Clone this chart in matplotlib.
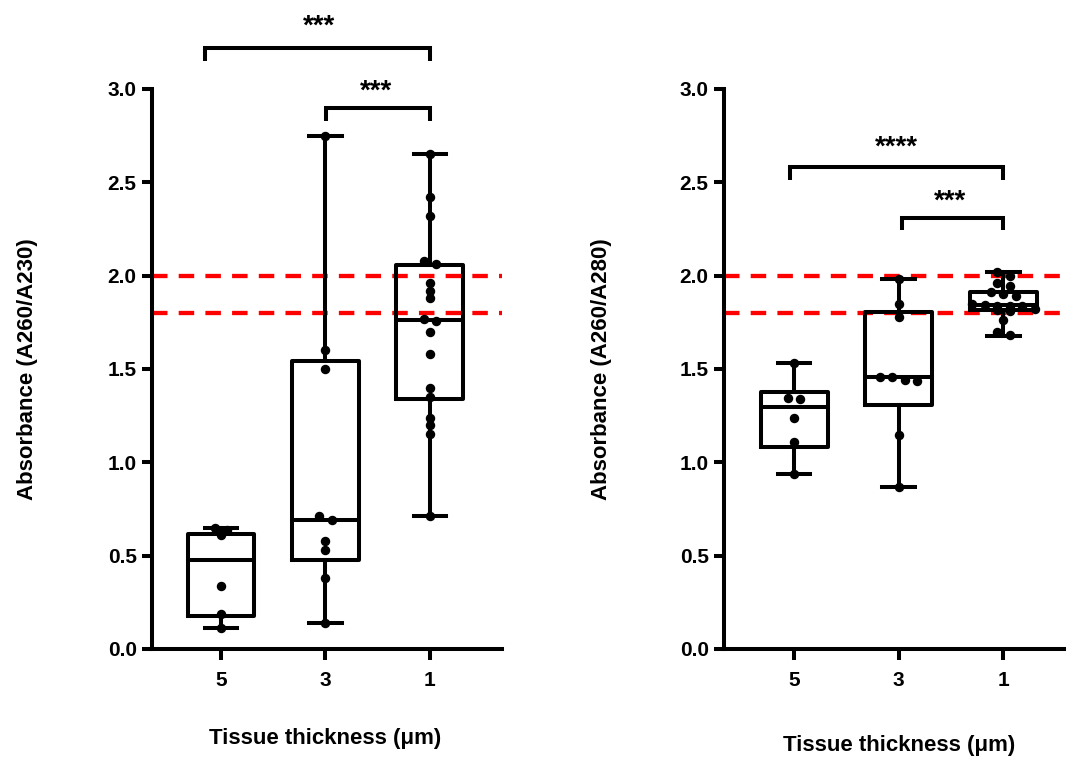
import matplotlib
matplotlib.use("Agg")
import matplotlib.pyplot as plt
import numpy as np

plt.rcParams['font.family'] = ['Liberation Sans', 'DejaVu Sans']
plt.rcParams['font.weight'] = 'bold'

# ---------------- data ----------------
categories = ["5", "3", "1"]

# Panel A: A260/A230
a230_points = [
    [0.65, 0.64, 0.61, 0.34, 0.19, 0.11],
    [2.75, 1.60, 1.50, 0.71, 0.69, 0.58, 0.53, 0.38, 0.14],
    [2.65, 2.42, 2.32, 2.08, 2.065, 1.96, 1.92, 1.88, 1.77, 1.756,
     1.70, 1.58, 1.40, 1.35, 1.24, 1.20, 1.15, 0.71],
]
a230_q1 = [0.178, 0.475, 1.337]
a230_med = [0.479, 0.693, 1.765]
a230_q3 = [0.618, 1.541, 2.055]
a230_lo = [0.11, 0.14, 0.71]
a230_hi = [0.65, 2.75, 2.65]

# Panel B: A260/A280
a280_points = [
    [1.53, 1.346, 1.339, 1.24, 1.107, 0.936],
    [1.98, 1.85, 1.78, 1.459, 1.457, 1.441, 1.436, 1.146, 0.866],
    [2.02, 2.00, 1.96, 1.945, 1.91, 1.90, 1.89, 1.85, 1.845, 1.84,
     1.84, 1.835, 1.82, 1.815, 1.81, 1.76, 1.70, 1.68],
]
a280_q1 = [1.080, 1.307, 1.816]
a280_med = [1.298, 1.459, 1.843]
a280_q3 = [1.379, 1.804, 1.911]
a280_lo = [0.936, 0.866, 1.677]
a280_hi = [1.53, 1.982, 2.021]

ref_lines = [2.0, 1.8]

# significance: (x_start, x_end, bar_y, leg_y, star_x, star_y, label)
a230_sig = [(-0.15, 2.0, 3.22, 3.15, 0.94, 3.335, "***"),
            (1.01, 2.0, 2.90, 2.83, 1.48, 2.985, "***")]
a280_sig = [(-0.04, 2.0, 2.58, 2.51, 0.98, 2.685, "****"),
            (1.03, 2.0, 2.31, 2.245, 1.49, 2.395, "***")]

ylabels = ["Absorbance (A260/A230)", "Absorbance (A260/A280)"]
xlabel = "Tissue thickness (\u03bcm)"
yticks = [0.0, 0.5, 1.0, 1.5, 2.0, 2.5, 3.0]

# ---------------- figure ----------------
W, H = 1067, 758
fig = plt.figure(figsize=(W / 100, H / 100), dpi=100)

def px_axes(x0, x1, ytop, ybot):
    return [x0 / W, (H - ybot) / H, (x1 - x0) / W, (ybot - ytop) / H]

axA = fig.add_axes(px_axes(152, 502, 89, 649))
axB = fig.add_axes(px_axes(724, 1064, 89, 649))

LW = 2.9

def swarm_offsets(vals, ax, thr=0.035, step_px=12.5):
    order = np.argsort(vals)[::-1]
    rows = []
    for i in order:
        if rows and abs(vals[rows[-1][0]] - vals[i]) < thr:
            rows[-1].append(i)
        else:
            rows.append([i])
    p0 = ax.transData.transform((0, 0))
    p1 = ax.transData.transform((1, 0))
    xpx = p1[0] - p0[0]
    offs = np.zeros(len(vals))
    for r in rows:
        k = len(r)
        for j, idx in enumerate(r):
            offs[idx] = (j - (k - 1) / 2) * step_px / xpx
    return offs

def panel(ax, xlim, pts, q1, med, q3, lo, hi, sig, ylab, xlab_pos):
    ax.set_xlim(*xlim)
    ax.set_ylim(0, 3.0)
    stats = []
    for i in range(len(categories)):
        stats.append(dict(q1=q1[i], med=med[i], q3=q3[i],
                          whislo=lo[i], whishi=hi[i], fliers=[]))
    ax.bxp(stats, positions=range(len(categories)), widths=0.64,
           showfliers=False,
           boxprops=dict(color='black', linewidth=LW),
           medianprops=dict(color='black', linewidth=LW),
           whiskerprops=dict(color='black', linewidth=LW),
           capprops=dict(color='black', linewidth=LW),
           capwidths=0.31, manage_ticks=False)
    for i, vals in enumerate(pts):
        vals = np.asarray(vals)
        offs = swarm_offsets(vals, ax)
        ax.plot(i + offs, vals, 'o', color='black', ms=5.8, zorder=5,
                clip_on=False)
    for y in ref_lines:
        ax.axhline(y, color='#ff0000', lw=3.1, dashes=(3.6, 2.6), zorder=1)
    for (x0, x1, yb, yl, sx, sy, lab) in sig:
        ax.plot([x0, x0, x1, x1], [yl, yb, yb, yl], color='black', lw=LW,
                clip_on=False, solid_joinstyle='miter', solid_capstyle='butt')
        ax.text(sx, sy, lab, ha='center', va='center', fontsize=20,
                fontweight='bold', clip_on=False)

    for s in ['top', 'right']:
        ax.spines[s].set_visible(False)
    for s in ['left', 'bottom']:
        ax.spines[s].set_linewidth(LW)
    ax.set_xticks(range(len(categories)))
    ax.set_xticklabels(categories)
    ax.set_yticks(yticks)
    ax.set_yticklabels([f"{v:.1f}" for v in yticks])
    ax.tick_params(axis='y', length=7, width=LW, labelsize=15, pad=4)
    ax.tick_params(axis='x', length=8, width=LW, labelsize=15, pad=8)
    ax.set_ylabel(ylab, fontsize=16, fontweight='bold', va='center')
    ax.set_xlabel(xlabel, fontsize=16, fontweight='bold', va='center')
    ax.xaxis.set_label_coords(*xlab_pos)
    return ax

panel(axA, (-0.66, 2.69), a230_points, a230_q1, a230_med, a230_q3, a230_lo,
      a230_hi, a230_sig, ylabels[0], (0.494, -0.159))
axA.yaxis.set_label_coords(-0.355, 0.5)
panel(axB, (-0.67, 2.58), a280_points, a280_q1, a280_med, a280_q3, a280_lo,
      a280_hi, a280_sig, ylabels[1], (0.515, -0.173))
axB.yaxis.set_label_coords(-0.36, 0.5)

fig.savefig("out.png", dpi=100)
